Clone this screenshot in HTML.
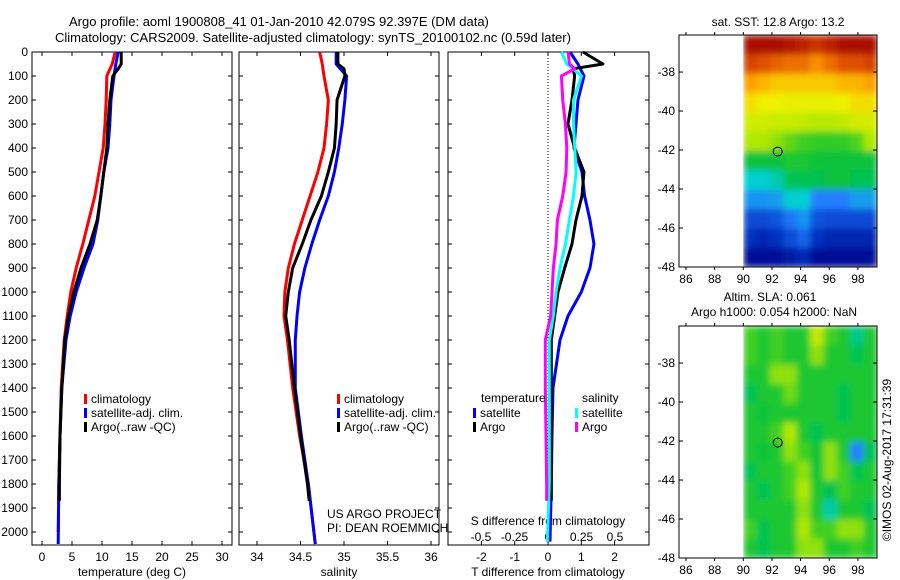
<!DOCTYPE html>
<html><head><meta charset="utf-8"><style>
html,body{margin:0;padding:0;background:#fff}
svg{display:block;font-family:"Liberation Sans",sans-serif}
</style></head><body>
<svg id="fig" width="900" height="580" xmlns="http://www.w3.org/2000/svg">
<defs>
<filter id="blur" x="0" y="0" width="1" height="1"><feGaussianBlur stdDeviation="3.5" edgeMode="duplicate"/></filter>
<clipPath id="clip1"><rect x="743.3" y="35" width="133.7" height="232"/></clipPath>
<clipPath id="clip2"><rect x="743.3" y="326" width="133.7" height="232"/></clipPath>
</defs>
<g font-size="13" fill="#000">
<text x="69" y="26">Argo profile: aoml 1900808_41 01-Jan-2010 42.079S 92.397E (DM data)</text>
<text x="55" y="42">Climatology: CARS2009. Satellite-adjusted climatology: synTS_20100102.nc (0.59d later)</text>
</g>
<g id="layer"></g>
</svg>
<script>
// ---- data ----
const depths = [0,50,100,200,300,400,500,600,700,800,900,1000,1100,1200,1400,1600,1800,2000];
const tempClim = [12.2,11.7,10.8,10.7,10.5,10.2,9.5,8.8,7.8,6.8,5.7,4.8,4.2,3.7,3.2,3.0,2.8,2.7];
const tempSat  = [12.7,12.3,12.0,11.5,11.3,11.0,10.3,9.8,9.3,8.5,7.0,5.7,4.7,4.0,3.3,3.0,2.8,2.7];
const argoDepths = [0,50,70,100,200,300,400,500,600,700,800,900,1000,1100,1200,1400,1600,1800,1870];
const tempArgo = [13.2,13.2,12.7,11.8,11.3,11.0,10.8,10.3,9.8,9.2,8.0,6.5,5.3,4.4,3.8,3.3,3.0,2.9,2.9];
const salClim = [34.72,34.75,34.77,34.82,34.80,34.77,34.70,34.61,34.52,34.43,34.36,34.32,34.31,34.35,34.41,34.49,34.59,34.67];
const salSat  = [34.91,34.91,35.03,35.01,34.98,34.94,34.89,34.82,34.72,34.63,34.55,34.49,34.46,34.44,34.44,34.51,34.59,34.67];
const salArgo = [34.93,34.93,35.0,35.01,34.92,34.91,34.89,34.82,34.74,34.62,34.52,34.41,34.36,34.33,34.37,34.43,34.50,34.58,34.60];
const dTsat  = [0.66,0.9,1.08,0.9,0.84,0.78,1.02,1.1,1.26,1.38,1.26,1.0,0.6,0.36,0.15,0.12,0.1,0.06];
const dTargo = [1.05,1.65,0.75,0.8,0.72,0.6,0.8,1.08,1.02,0.84,0.72,0.5,0.3,0.2,0.1,0.1,0.1,0.1,0.1];
const dSsat  = [0.1,0.14,0.25,0.19,0.19,0.2,0.21,0.19,0.16,0.13,0.09,0.06,0.04,0.01,0.01,0.01,0.01,-0.005];
const dSargo = [0.15,0.16,0.2,0.1,0.11,0.13,0.14,0.135,0.11,0.07,0.06,0.04,0.03,0.02,-0.02,-0.02,-0.015,-0.01,-0.01];
const depthTicks = [0,100,200,300,400,500,600,700,800,900,1000,1100,1200,1300,1400,1500,1600,1700,1800,1900,2000];
const tempTicks = [0,5,10,15,20,25,30];
const salTicks = [34,34.5,35,35.5,36];
const dTTicks = [-2,-1,0,1,2];
const dSTicks = [-0.5,-0.25,0,0.25,0.5];
const dSTickLabels = ["-0.5","-0.25","0","0.25","0.5"];
const latTicks = [-38,-40,-42,-44,-46,-48];
const lonTicks = [86,88,90,92,94,96,98];
const sstGrid = [
[0.98,0.98,0.98,0.97,0.95,0.92,0.95,0.98,0.98,0.98],
[0.9,0.88,0.86,0.84,0.84,0.8,0.84,0.88,0.88,0.9],
[0.78,0.76,0.74,0.74,0.74,0.74,0.74,0.76,0.76,0.78],
[0.72,0.7,0.7,0.69,0.69,0.69,0.69,0.7,0.72,0.72],
[0.66,0.66,0.65,0.65,0.64,0.63,0.63,0.64,0.66,0.66],
[0.62,0.62,0.6,0.57,0.55,0.53,0.53,0.53,0.56,0.62],
[0.47,0.47,0.47,0.5,0.5,0.48,0.47,0.47,0.47,0.47],
[0.38,0.38,0.4,0.45,0.45,0.45,0.47,0.47,0.45,0.45],
[0.32,0.32,0.33,0.38,0.38,0.3,0.3,0.3,0.33,0.33],
[0.2,0.2,0.22,0.28,0.32,0.22,0.2,0.2,0.2,0.2],
[0.15,0.12,0.15,0.2,0.25,0.15,0.12,0.12,0.12,0.12],
[0.05,0.05,0.05,0.08,0.12,0.05,0.05,0.05,0.05,0.05]];
const slaGrid = [
[0.55,0.5,0.55,0.5,0.5,0.64,0.55,0.5,0.42,0.5],
[0.55,0.5,0.55,0.5,0.5,0.6,0.5,0.5,0.45,0.5],
[0.5,0.5,0.6,0.6,0.5,0.5,0.5,0.5,0.5,0.5],
[0.45,0.5,0.5,0.58,0.5,0.5,0.5,0.45,0.5,0.5],
[0.5,0.48,0.5,0.5,0.5,0.5,0.5,0.45,0.5,0.5],
[0.5,0.5,0.55,0.62,0.5,0.45,0.5,0.5,0.5,0.5],
[0.5,0.48,0.5,0.6,0.55,0.48,0.6,0.5,0.3,0.45],
[0.45,0.5,0.5,0.55,0.6,0.48,0.6,0.55,0.45,0.5],
[0.5,0.45,0.5,0.55,0.62,0.5,0.45,0.55,0.5,0.5],
[0.5,0.5,0.5,0.5,0.6,0.5,0.4,0.5,0.5,0.45],
[0.55,0.45,0.5,0.5,0.62,0.55,0.55,0.6,0.6,0.5],
[0.5,0.45,0.5,0.5,0.6,0.6,0.5,0.5,0.55,0.5]];
const argoLon = 92.4, argoLat = -42.08;

// ---- helpers ----
const NS="http://www.w3.org/2000/svg";
const L=document.getElementById('layer');
function mk(tag,attrs,parent){const e=document.createElementNS(NS,tag);for(const k in attrs)e.setAttribute(k,attrs[k]);(parent||L).appendChild(e);return e;}
function txt(x,y,s,anchor,size,parent){const t=mk('text',{x:x,y:y,'font-size':size||12,'text-anchor':anchor||'start'},parent);t.textContent=s;return t;}
const yD = d => 52 + d*0.24;
const PB = 545;
function panel(x0,x1,name){
  const g=mk('g',{});
  
  
  const r=mk('rect',{x:x0,y:52,width:x1-x0,height:PB-52,fill:'none',stroke:'#000','stroke-width':1},g);
  
  
  depthTicks.forEach(d=>{mk('line',{x1:x0,x2:x0+4,y1:yD(d),y2:yD(d),stroke:'#000'},g);mk('line',{x1:x1-4,x2:x1,y1:yD(d),y2:yD(d),stroke:'#000'},g);});
  return g;
}
function line(xs,ds,sx,color,name,parent){
  const p=mk('polyline',{points:xs.map((v,i)=>sx(v)+','+yD(ds[i])).join(' '),fill:'none',stroke:color,'stroke-width':3,'stroke-linejoin':'round'},parent);
  
  
}
function legend(x,y,color,label,parent){
  mk('rect',{x:x,y:y-9,width:3,height:10,fill:color},parent);
  txt(x+7,y,label,'start',12,parent);
}

// ---- panel 1 temperature ----
const sxT = v => 42 + v*6;
const p1=panel(32,232,'temperature-panel');
const yl=mk('g',{});


depthTicks.forEach(d=>txt(28,yD(d)+4,String(d),'end',12,yl));
tempTicks.forEach(v=>{mk('line',{x1:sxT(v),x2:sxT(v),y1:52,y2:56,stroke:'#000'},p1);mk('line',{x1:sxT(v),x2:sxT(v),y1:PB-4,y2:PB,stroke:'#000'},p1);txt(sxT(v),561,String(v),'middle',12,p1);});
const t1=txt(132,576,'temperature (deg C)','middle',12,p1);


line(tempClim,depths,sxT,'#ff0000','temp-climatology-line',p1);
line(tempSat,depths.map(d=>d===2000?2050:d),sxT,'#0000ff','temp-satellite-line',p1);
line(tempArgo,argoDepths,sxT,'#000','temp-argo-line',p1);
const lg1=mk('g',{},p1);


legend(84,403,'#ff0000','climatology',lg1);legend(84,417,'#0000ff','satellite-adj. clim.',lg1);legend(84,431,'#000','Argo(..raw -QC)',lg1);

// ---- panel 2 salinity ----
const sxS = v => 257 + (v-34)*87;
const p2=panel(239,439,'salinity-panel');
salTicks.forEach(v=>{mk('line',{x1:sxS(v),x2:sxS(v),y1:52,y2:56,stroke:'#000'},p2);mk('line',{x1:sxS(v),x2:sxS(v),y1:PB-4,y2:PB,stroke:'#000'},p2);txt(sxS(v),561,String(v),'middle',12,p2);});
const t2=txt(339,576,'salinity','middle',12,p2);


line(salClim,depths.map(d=>d===2000?2050:d),sxS,'#ff0000','sal-climatology-line',p2);
line(salSat,depths.map(d=>d===2000?2050:d),sxS,'#0000ff','sal-satellite-line',p2);
line(salArgo,argoDepths,sxS,'#000','sal-argo-line',p2);
const lg2=mk('g',{},p2);


legend(337,403,'#ff0000','climatology',lg2);legend(337,417,'#0000ff','satellite-adj. clim.',lg2);legend(337,431,'#000','Argo(..raw -QC)',lg2);
txt(327,518,'US ARGO PROJECT','start',12,p2);
txt(327,532,'PI: DEAN ROEMMICH','start',12,p2);

// ---- panel 3 differences ----
const sxDT = v => 548 + v*33.3;
const sxDS = v => 548 + v*134;
const p3=panel(448,649,'difference-panel');
mk('line',{x1:548,x2:548,y1:52,y2:PB,stroke:'#000','stroke-dasharray':'1,2'},p3);
dTTicks.forEach(v=>{mk('line',{x1:sxDT(v),x2:sxDT(v),y1:52,y2:56,stroke:'#000'},p3);mk('line',{x1:sxDT(v),x2:sxDT(v),y1:PB-4,y2:PB,stroke:'#000'},p3);txt(sxDT(v),561,String(v),'middle',12,p3);});
dSTicks.forEach((v,i)=>txt(sxDS(v),541,dSTickLabels[i],'middle',12,p3));
txt(548,525,'S difference from climatology','middle',12,p3);
const t3=txt(548,576,'T difference from climatology','middle',12,p3);


const d2050=depths.map(d=>d===2000?2040:d);
line(dTsat,d2050,sxDT,'#0000ff','tdiff-satellite-line',p3);
line(dTargo,argoDepths,sxDT,'#000','tdiff-argo-line',p3);
line(dSsat,d2050,sxDS,'#00ffff','sdiff-satellite-line',p3);
line(dSargo,argoDepths,sxDS,'#ff00ff','sdiff-argo-line',p3);
const lg3=mk('g',{},p3);


txt(481,402,'temperature','start',12,lg3);txt(582,402,'salinity','start',12,lg3);
legend(473,417,'#0000ff','satellite',lg3);legend(473,431,'#000','Argo',lg3);
legend(575,417,'#00ffff','satellite',lg3);legend(575,431,'#ff00ff','Argo',lg3);

// ---- maps ----
const cstops=[[0,[0,0,128]],[0.15,[0,48,192]],[0.3,[32,128,255]],[0.38,[0,208,208]],[0.46,[0,192,64]],[0.55,[64,208,32]],[0.62,[176,232,0]],[0.7,[240,240,0]],[0.78,[255,160,0]],[0.88,[224,80,0]],[1,[160,0,0]]];
function cmap(v){for(let i=1;i<cstops.length;i++){if(v<=cstops[i][0]){const a=cstops[i-1],b=cstops[i],t=(v-a[0])/(b[0]-a[0]);return 'rgb('+a[1].map((c,k)=>Math.round(c+(b[1][k]-c)*t)).join(',')+')';}}return 'rgb(160,0,0)';}
function map(top,grid,name,titles,clip){
  const bot=top+232, lonX=v=>743.3+(v-90)*14.33, latY=v=>top+(-36.1-v)*(232/11.9);
  const g=mk('g',{});
  
  
  const rows=grid.length, cols=grid[0].length;
  const x0=lonX(90), x1=877, cw=(x1-x0)/cols, ch=(bot-top)/rows;
  const cg=mk('g',{'clip-path':'url(#'+clip+')'},g);
  const bg=mk('g',{filter:'url(#blur)'},cg);
  grid.forEach((row,r)=>row.forEach((v,c)=>{
    const cell=mk('rect',{x:x0+c*cw,y:top+r*ch,width:cw+0.6,height:ch+0.6,fill:cmap(v)},bg);
    
    
  }));
  mk('rect',{x:679,y:top,width:198,height:232,fill:'none',stroke:'#000'},g);
  latTicks.forEach(v=>{mk('line',{x1:679,x2:683,y1:latY(v),y2:latY(v),stroke:'#000'},g);mk('line',{x1:873,x2:877,y1:latY(v),y2:latY(v),stroke:'#000'},g);txt(675,latY(v)+4,String(v),'end',12,g);});
  lonTicks.forEach(v=>{mk('line',{x1:lonX(v),x2:lonX(v),y1:top-3,y2:top,stroke:'#000'},g);mk('line',{x1:lonX(v),x2:lonX(v),y1:bot,y2:bot+3,stroke:'#000'},g);txt(lonX(v),bot+16,String(v),'middle',12,g);});
  const m=mk('circle',{cx:lonX(argoLon),cy:latY(argoLat),r:4.5,fill:'none',stroke:'#000'},g);
  
  
  titles.forEach(t=>txt(t[0],t[1],t[2],'middle',12,g));
}
map(35,sstGrid,'sst-map',[[778,26,'sat. SST: 12.8 Argo: 13.2']],'clip1');
map(326,slaGrid,'sla-map',[[770,301,'Altim. SLA: 0.061'],[774,316,'Argo h1000: 0.054 h2000: NaN']],'clip2');
const stamp=txt(0,0,'©IMOS 02-Aug-2017 17:31:39','middle',12);
stamp.setAttribute('transform','translate(891,460) rotate(-90)');


</script>
</body></html>
